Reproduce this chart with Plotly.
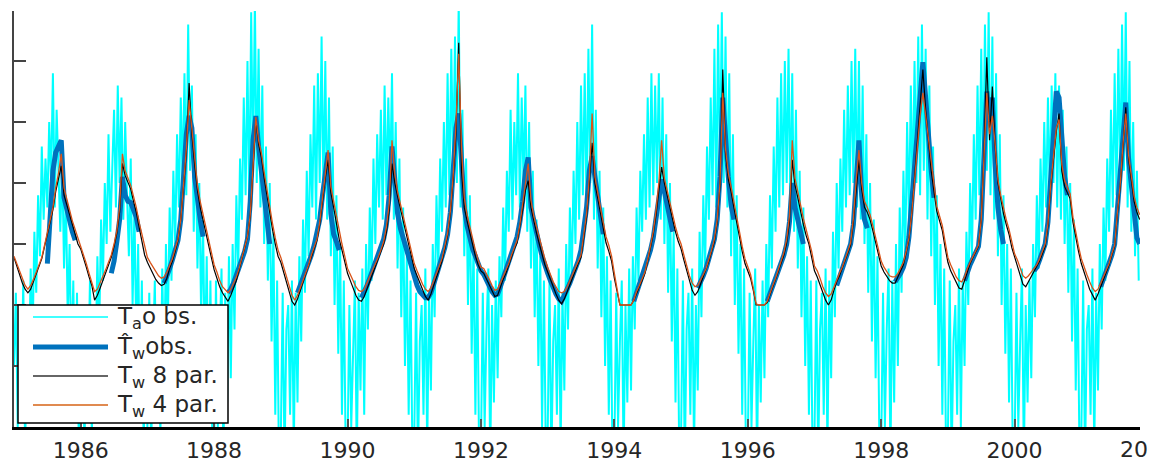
import numpy as np
import plotly.graph_objects as go

N = None
# ---------------- data (decimal-year time axis) ----------------
# Air temperature observations, sampled every 1/36 year (1985.0 ... 2001.86)
ta_obs = [
 -5, 1,-10,-3,-7, 2,-12,-2,-6, 3,-3, 6, 1, 9, 4,13, 7,12, 8,15,10,19, 8,16,11, 6,12, 3, 9,-1, 5,-5, 2,-9, 1,-12,   # 1985
 -9, 0,-12,-3,-6, 2,-11,-1,-5, 4,-2, 7, 2,10, 5,14, 6,12,16, 8,18,10,17, 7,15, 9, 4,12, 0, 8,-3, 5,-8, 2,-12, 0,   # 1986
 -10,1,-12,-4, 2,-9, 0,-11, 3,-6, 5,-2, 8, 2,11, 5,14, 8,17,10,19, 9,23,11,18, 6,14, 3,10,-1, 7,-5, 4,-9, 2,-11,   # 1987
 -12,2,-10,-3, 3,-13,1,-8, 4,-6, 5,-2, 9, 3,12, 7,17, 9,20, 8,24,11,25,10,21, 8,18, 5,13, 2,10,-3, 6,-9, 2,-13,   # 1988
 -11,1,-13,-2, 0,-9, 2,-12, 1,-8, 4,-3, 7, 1,11, 4,14, 8,18, 7,19,10,22, 9,20, 7,17, 4,13, 0, 9,-4, 5,-9, 2,-12,   # 1989
 -12,0,-10,-4, 2,-13,1,-7, 3,-9, 5,-2, 8, 2,12, 5,14, 8,16, 7,18, 9,17,10,19, 7,15, 3,12,-1, 8,-5, 4,-9, 2,-12,   # 1990
 -11,1,-13,-3, 0,-9, 3,-12, 1,-7, 5,-1, 9, 3,12, 6,15, 8,19, 9,21,11,22,10,25, 8,16, 4,12, 0, 9,-4, 5,-9, 3,-12,   # 1991
 -12,1,-10,-2, 3,-13,0,-8, 2,-6, 4,-1, 8, 2,11, 6,16, 7,15, 9,19, 8,17,10,18, 6,15, 3,11,-1, 7,-5, 4,-10,2,-12,   # 1992
 -11,2,-13,-3, 0,-9, 3,-12, 1,-7, 5,-2, 8, 2,11, 5,15, 7,18, 9,19, 8,21,10,23, 7,16, 3,11,-1, 8,-5, 4,-9, 2,-13,   # 1993
 -12,1,-10,-3, 2,-13,0,-8, 3,-7, 4,-2, 8, 2,11, 6,14, 7,17, 8,19, 9,18,10,19, 7,17, 5,14, 1,10,-3, 6,-8, 3,-12,   # 1994
 -11,2,-13,-2, 1,-9, 3,-12, 0,-7, 6,-1, 9, 3,13, 7,17, 9,21, 8,23,11,24,10,22, 8,19, 4,14, 0, 9,-4, 5,-9, 3,-12,   # 1995
 -12,1,-10,-3, 3,-13,0,-8, 2,-6, 5,-1, 9, 3,13, 6,17, 8,19, 9,20,10,21, 8,19, 6,16, 3,11,-1, 8,-5, 4,-9, 2,-13,   # 1996
 -11,2,-13,-2, 1,-9, 3,-12, 2,-6, 6,-1,10, 3,12, 6,16, 8,18, 9,20,10,21, 8,20, 7,18, 5,14, 1,10,-3, 7,-6, 4,-11,   # 1997
 -12,1,-10,-2, 3,-13,2,-8, 5,-5, 8, 1,11, 4,15, 7,18, 9,20,10,22, 9,23,11,21, 7,18, 4,13, 0, 9,-5, 5,-9, 3,-12,   # 1998
 -11,2,-13,-3, 0,-9, 3,-10, 2,-5, 6, 0,10, 4,14, 7,18, 9,21,10,23,11,24, 9,22, 7,19, 4,14, 0, 9,-4, 5,-8, 3,-12,   # 1999
 -12,1,-10,-3, 3,-13,0,-8, 2,-6, 5,-1, 9, 3,12, 6,15, 8,17, 9,18,10,19, 8,18, 7,16, 5,13, 1,10,-3, 7,-7, 3,-12,   # 2000
 -11,2,-13,-2, 0,-9, 3,-12, 1,-7, 5,-2, 8, 2,12, 6,16, 8,19, 9,21,10,23,11,24, 8,20, 6,15, 4,11, 2,               # 2001
]

# Water temperature series, sampled every 1/24 year (1985.0 ... 2001.875)
tw_obs = [
 N,N,N,N,N,N,N,N,N,N,N,N,3.4,7.5,11.0,12.5,13.0,13.5,8.8,7.8,6.8,6.0,5.3,N,            # 1985
 N,N,N,N,N,N,N,N,N,N,N,2.6,3.6,5.2,7.0,10.5,9.0,8.5,8.4,7.8,7.2,6.0,N,N,               # 1986
 N,N,N,N,N,N,1.8,2.3,3.0,3.7,4.5,5.3,7.0,10.0,14.0,15.5,14.5,10.5,8.5,7.0,5.6,N,N,N,   # 1987
 N,N,N,N,N,1.0,1.3,1.8,2.4,3.0,3.6,4.4,5.4,8.5,13.5,15.5,13.0,11.0,8.5,6.5,5.0,N,N,N,  # 1988
 N,N,N,N,N,N,1.0,1.6,2.2,2.8,3.4,4.1,4.9,5.8,7.0,9.0,11.0,12.5,7.5,5.8,5.2,4.5,N,N,    # 1989
 N,N,N,N,N,0.6,1.0,1.6,2.2,2.8,3.4,4.0,4.6,5.4,6.6,9.0,13.0,9.5,7.5,6.3,5.5,4.8,4.0,3.0,  # 1990
 2.2,1.6,1.1,0.8,0.6,0.6,1.0,1.7,2.4,3.0,3.7,4.7,5.8,7.6,11.0,14.5,15.7,11.5,8.0,6.5,5.5,4.6,4.0,3.3,  # 1991
 2.8,2.5,2.0,1.6,1.1,0.8,0.9,1.5,2.2,2.8,3.4,4.0,4.7,5.6,6.8,8.5,11.0,12.1,8.0,6.8,5.8,4.9,4.0,3.2,  # 1992
 2.6,2.0,1.4,0.9,0.5,0.3,0.8,1.2,1.8,2.4,3.0,3.6,4.5,6.0,8.0,11.0,12.2,10.5,8.8,7.2,5.8,N,N,N,     # 1993
 N,N,N,N,N,N,N,0.3,1.0,1.7,2.3,2.9,3.6,4.5,5.5,7.0,9.0,10.3,9.3,8.3,7.2,6.0,N,N,       # 1994
 N,N,N,N,N,N,1.4,1.8,2.4,3.0,3.7,4.5,5.4,7.0,10.5,17.0,13.5,10.5,8.2,7.0,N,N,N,N,      # 1995
 N,N,N,N,N,N,N,0.3,0.9,1.5,2.1,2.8,3.4,4.1,5.0,6.8,10.0,8.0,7.0,6.0,5.0,N,N,N,         # 1996
 N,N,N,N,N,N,N,N,1.6,2.3,2.9,3.5,4.2,5.0,6.6,9.5,13.5,9.0,7.0,6.3,N,N,N,N,             # 1997
 N,N,N,N,N,1.9,2.2,2.6,3.1,3.9,5.6,8.5,11.5,14.5,17.5,19.9,17.0,13.5,11.0,8.8,N,N,N,N, # 1998
 N,N,N,N,N,N,2.0,2.8,3.3,3.8,4.3,4.8,7.0,12.0,17.5,15.0,17.0,11.5,8.0,6.2,5.0,N,N,N,   # 1999
 N,N,N,N,N,N,N,2.8,3.1,3.7,4.3,5.0,6.8,10.0,13.5,17.5,17.0,13.0,10.5,9.0,N,N,N,N,      # 2000
 N,N,N,N,N,N,N,1.5,2.1,2.7,3.3,4.1,5.0,8.0,11.0,14.0,16.6,12.0,9.5,7.0,5.5,5.0,        # 2001
]

tw_8par = [
 3.9,3.2,2.5,1.8,1.3,1.0,1.3,1.9,2.5,3.2,3.8,4.8,5.9,6.8,7.8,9.3,10.5,11.4,9.0,8.2,7.2,6.4,5.7,5.0,  # 1985
 4.6,3.9,3.1,2.3,1.6,0.4,0.8,1.4,2.0,2.6,3.3,3.9,4.8,5.9,7.6,11.6,10.6,10.1,9.5,8.5,7.6,6.4,5.3,4.1, # 1986
 3.5,3.0,2.6,2.1,1.8,1.6,1.7,2.2,3.0,3.6,4.4,5.3,7.0,9.7,12.5,18.2,14.0,11.5,9.4,8.0,6.9,6.0,4.9,3.9, # 1987
 2.9,2.2,1.5,1.0,0.6,0.3,0.8,1.4,2.0,2.9,3.8,4.7,5.6,7.3,11.0,15.2,13.2,12.1,10.4,8.9,7.5,6.2,5.0,4.0, # 1988
 3.5,2.7,1.9,0.9,0.3,0.0,0.5,1.2,1.9,2.5,3.2,4.0,4.7,5.3,6.6,8.6,10.4,11.9,9.2,8.0,6.6,5.4,4.5,3.5,  # 1989
 2.6,2.0,1.4,0.8,0.4,0.3,0.7,1.3,2.0,2.6,3.2,3.8,4.3,5.0,6.0,7.8,11.6,10.0,8.9,7.9,6.8,5.8,5.0,3.9,  # 1990
 3.0,2.4,1.8,1.2,0.7,0.4,0.9,1.6,2.3,2.9,3.6,4.6,5.7,7.5,10.3,14.0,21.5,11.0,8.0,6.9,5.9,4.8,4.0,3.3, # 1991
 2.8,2.6,2.1,1.6,1.1,0.7,0.8,1.5,2.1,2.6,3.3,4.0,4.6,5.1,6.3,7.8,9.4,10.2,8.0,6.8,5.9,5.0,4.1,3.3,  # 1992
 2.7,2.1,1.4,0.9,0.4,0.1,0.5,1.1,1.7,2.3,2.8,3.4,3.9,5.6,7.2,10.0,13.3,10.0,8.7,7.5,6.3,5.1,4.4,3.6, # 1993
 2.2,1.0,0.0,0.0,0.0,0.0,0.0,0.4,1.0,1.5,2.0,2.6,3.6,4.7,5.8,7.4,9.2,11.3,10.0,9.0,8.0,6.9,6.0,5.2,  # 1994
 4.6,3.7,2.8,2.0,1.2,0.8,1.1,1.7,2.3,2.9,3.6,4.4,5.2,6.8,9.7,19.3,12.5,10.3,9.3,8.0,6.8,5.4,4.4,3.4, # 1995
 2.8,2.2,1.2,0.0,0.0,0.0,0.0,0.2,0.9,1.5,2.1,2.8,3.4,4.1,5.1,6.8,11.9,9.8,8.8,7.6,6.6,5.7,5.0,3.9,  # 1996
 2.8,2.3,1.7,1.0,0.4,0.0,0.4,1.2,1.9,2.4,3.0,3.6,4.3,4.9,6.8,9.7,11.9,9.5,8.0,7.6,7.0,6.1,5.1,4.2,  # 1997
 3.2,2.7,2.3,2.0,1.8,1.8,2.3,2.8,3.3,4.3,5.4,7.5,10.5,13.8,16.5,19.3,16.0,13.3,11.0,9.3,7.7,6.9,6.1,4.7, # 1998
 3.5,2.8,2.3,1.8,1.4,1.3,2.0,2.8,3.4,3.9,4.3,4.8,7.0,12.5,20.3,13.5,17.9,13.0,10.0,8.6,7.5,6.6,5.8,4.7, # 1999
 3.9,3.3,2.5,1.7,1.5,1.9,2.4,2.8,3.1,3.6,4.2,4.8,6.5,9.7,12.0,14.2,15.7,11.0,9.7,9.2,8.7,6.8,5.5,4.4, # 2000
 3.4,2.6,2.0,1.3,0.8,0.4,0.9,1.5,2.1,2.6,3.3,4.1,4.8,7.5,9.7,13.0,16.2,12.0,10.2,8.5,7.6,7.0,          # 2001
]

tw_4par = [
 4.0,3.4,2.7,2.1,1.6,1.3,1.6,2.1,2.7,3.3,3.9,4.9,5.9,6.9,8.0,9.6,10.8,12.4,9.6,8.7,7.7,6.9,6.2,5.5,  # 1985
 4.9,4.2,3.4,2.6,1.9,1.1,1.3,1.8,2.3,2.9,3.5,4.1,5.0,6.1,8.0,12.4,11.0,10.4,9.8,8.9,8.0,6.8,5.8,4.8, # 1986
 3.9,3.5,3.1,2.7,2.4,2.2,2.3,2.7,3.3,3.8,4.6,5.4,7.0,9.8,12.8,16.8,14.5,12.0,9.8,8.5,7.4,6.4,5.4,4.4, # 1987
 3.3,2.7,2.0,1.5,1.2,1.0,1.3,1.8,2.3,3.0,3.8,4.7,5.6,7.4,11.2,15.4,13.5,12.5,10.9,9.4,8.0,6.7,5.5,4.5, # 1988
 3.9,3.1,2.3,1.4,0.8,0.4,0.8,1.4,2.0,2.6,3.3,4.1,4.8,5.4,6.8,8.9,10.9,12.7,9.7,8.5,7.1,5.9,5.0,4.0,  # 1989
 3.0,2.5,2.0,1.5,1.2,1.1,1.3,1.8,2.3,2.8,3.4,3.9,4.5,5.2,6.4,8.3,13.5,10.8,9.3,8.3,7.2,6.2,5.4,4.4,  # 1990
 3.4,2.8,2.2,1.7,1.3,1.1,1.4,2.0,2.6,3.1,3.8,4.8,5.9,7.7,10.6,14.8,20.6,13.0,8.8,7.4,6.4,5.3,4.5,3.7, # 1991
 3.1,3.0,2.6,2.1,1.6,1.2,1.3,1.8,2.3,2.8,3.4,4.1,4.7,5.3,6.6,8.3,10.2,11.6,8.6,7.3,6.4,5.5,4.6,3.8,  # 1992
 3.1,2.5,1.9,1.5,1.1,1.0,1.1,1.5,2.0,2.5,3.0,3.6,4.1,5.8,7.5,10.5,15.7,10.5,9.1,8.0,6.8,5.6,4.9,4.0, # 1993
 2.6,1.2,0.0,0.0,0.0,0.0,0.0,0.4,1.1,1.6,2.1,2.7,3.7,4.8,6.0,7.8,10.0,13.5,10.4,9.4,8.4,7.3,6.4,5.6, # 1994
 5.0,4.1,3.2,2.4,1.8,1.5,1.6,2.0,2.5,3.0,3.7,4.5,5.4,7.0,10.0,17.4,12.8,10.8,9.7,8.4,7.2,5.8,4.8,3.8, # 1995
 3.1,2.5,1.4,0.1,0.0,0.0,0.0,0.3,1.0,1.6,2.2,2.9,3.5,4.3,5.4,7.3,13.5,10.4,9.3,8.1,7.1,6.2,5.4,4.4,  # 1996
 3.2,2.8,2.2,1.5,1.0,0.7,0.9,1.5,2.1,2.6,3.1,3.7,4.4,5.1,7.1,10.2,12.7,10.0,8.5,8.0,7.4,6.5,5.5,4.6, # 1997
 3.6,3.1,2.7,2.4,2.3,2.3,2.6,3.0,3.5,4.4,5.5,7.5,10.3,13.3,15.5,17.4,15.5,13.5,11.4,9.7,8.1,7.3,6.5,5.2, # 1998
 3.9,3.3,2.8,2.3,2.0,1.9,2.3,3.0,3.5,4.0,4.4,4.9,7.0,12.0,17.4,14.0,15.5,13.2,10.3,9.0,7.9,7.0,6.2,5.1, # 1999
 4.2,3.7,3.0,2.4,2.2,2.4,2.7,3.0,3.3,3.8,4.4,5.0,6.7,9.9,12.2,14.5,15.2,11.5,10.2,9.6,9.1,7.2,5.9,4.8, # 2000
 3.8,3.1,2.5,1.9,1.4,1.1,1.3,1.8,2.3,2.8,3.4,4.2,4.9,7.6,9.9,13.2,15.7,12.3,10.5,8.9,8.0,7.4,         # 2001
]

year_ticks = [1986, 1988, 1990, 1992, 1994, 1996, 1998, 2000, 2002]
y_ticks = [-10, -5, 0, 5, 10, 15, 20]
series_names = ["T<sub>a</sub>o bs.", "T\u0302<sub>w</sub>obs.",
                "T<sub>w</sub> 8 par.", "T<sub>w</sub> 4 par."]

t_air = 1985 + np.arange(len(ta_obs)) / 36.0
t_wat = 1985 + np.arange(len(tw_8par)) / 24.0

# ---------------- styling ----------------
FONT = "DejaVu Sans"
TXT = "#262626"
W, H = 1149, 464
PL, PR, PT, PB = 14, 1140, 11, 427           # plot-area edges in pixels
XR = [1985.0, 2001.88]
YR = [-10, 24.1]
colors = ["#00FFFF", "#0072BD", "#000000", "#D95319"]
widths = [2.0, 5, 1.2, 1.3]

def px_x(px):
    return (px - PL) / (PR - PL)

def px_y(py):
    return (PB - py) / (PB - PT)

fig = go.Figure()
for t, y, name, c, w in zip([t_air, t_wat, t_wat, t_wat],
                            [ta_obs, tw_obs, tw_8par, tw_4par],
                            series_names, colors, widths):
    fig.add_trace(go.Scatter(x=t, y=y, mode="lines", name=name, showlegend=False,
                             connectgaps=False, line=dict(color=c, width=w)))

shapes = [dict(type="rect", xref="paper", yref="paper",
               x0=px_x(18), x1=px_x(228), y0=px_y(423), y1=px_y(305),
               line=dict(color="black", width=1.5), fillcolor="white", layer="above")]
annotations = []
rows = [317, 347, 376, 405]
leg_w = [1.3, 5, 1.5, 1.8]
leg_c = ["#00FFFF", "#0072BD", "#333333", "#E08A50"]
for name, c, w, ry in zip(series_names, leg_c, leg_w, rows):
    shapes.append(dict(type="line", xref="paper", yref="paper",
                       x0=px_x(33), x1=px_x(108), y0=px_y(ry), y1=px_y(ry),
                       line=dict(color=c, width=w), layer="above"))
    annotations.append(dict(xref="paper", yref="paper", x=px_x(115), y=px_y(ry + 1),
                            xanchor="left", yanchor="middle", text=name, showarrow=False,
                            font=dict(family=FONT, size=23, color=TXT)))

# last year label sits past the right end of the axis and is cut by the page edge
annotations.append(dict(xref="paper", yref="paper",
                        x=(year_ticks[-1] - XR[0]) / (XR[1] - XR[0]), y=px_y(450),
                        xanchor="center", yanchor="middle",
                        text=str(year_ticks[-1]), showarrow=False,
                        font=dict(family=FONT, size=22, color=TXT)))

fig.update_layout(
    width=W, height=H,
    margin=dict(l=PL, r=W - PR, t=PT, b=H - PB, autoexpand=False),
    paper_bgcolor="white", plot_bgcolor="white",
    font=dict(family=FONT, size=22, color=TXT),
    showlegend=False,
    shapes=shapes, annotations=annotations,
    xaxis=dict(range=XR, tickvals=year_ticks[:-1],
               ticktext=[str(v) for v in year_ticks[:-1]],
               ticks="inside", ticklen=8, tickwidth=1.5, tickcolor="#555",
               showline=True, linecolor="black", linewidth=2.5,
               showgrid=False, zeroline=False, ticklabelstandoff=2,
               automargin=False,
               tickfont=dict(family=FONT, size=22, color=TXT)),
    yaxis=dict(range=YR, tickvals=y_ticks, showticklabels=False,
               ticks="inside", ticklen=12, tickwidth=1.5, tickcolor="#444",
               showline=True, linecolor="#444", linewidth=2,
               showgrid=False, zeroline=False, automargin=False),
)

fig.write_html("out.html")
